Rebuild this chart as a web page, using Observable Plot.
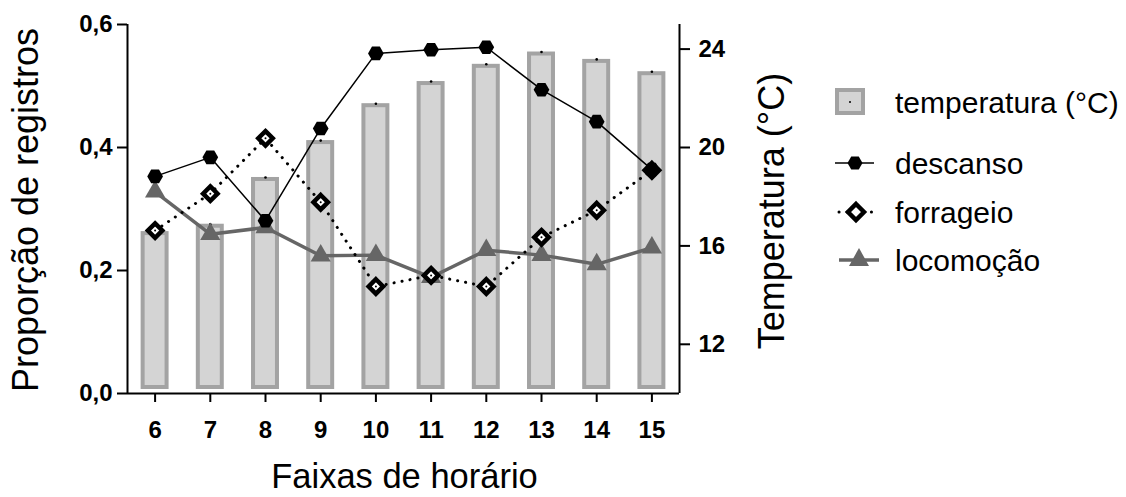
<!DOCTYPE html>
<html><head><meta charset="utf-8">
<script src="https://cdn.jsdelivr.net/npm/d3@7"></script>
<script src="https://cdn.jsdelivr.net/npm/@observablehq/plot@0.6"></script>
<style>
body{margin:0;background:#fff;}
#wrap{position:relative;width:1126px;height:497px;font-family:"Liberation Sans",Arial,sans-serif;}
#legend{position:absolute;left:0;top:0;pointer-events:none;}
#chart svg text{font-family:"Liberation Sans",Arial,sans-serif;}
</style>
</head><body>
<div id="wrap"><div id="chart"></div>
<svg id="legend" width="1126" height="497"></svg></div>
<script>
const hours = [6, 7, 8, 9, 10, 11, 12, 13, 14, 15];
const temperatura = [16.5, 16.8, 18.7, 20.2, 21.7, 22.6, 23.3, 23.8, 23.5, 23.0];
const descanso = [0.353, 0.384, 0.281, 0.431, 0.553, 0.559, 0.563, 0.494, 0.442, 0.364];
const forrageio = [0.265, 0.325, 0.415, 0.311, 0.174, 0.192, 0.174, 0.254, 0.298, 0.363];
const locomocao = [0.328, 0.259, 0.270, 0.224, 0.225, 0.189, 0.233, 0.225, 0.210, 0.237];
const propTicks = [0, 0.2, 0.4, 0.6];
const tempTicks = [12, 16, 20, 24];
const propDomain = [0, 0.6];
const tempDomain = [10, 25];
const xDomain = [5.5, 15.5];
const seriesNames = ["temperatura (°C)", "descanso", "forrageio", "locomoção"];

const toP = t => (t - tempDomain[0]) / (tempDomain[1] - tempDomain[0]) * (propDomain[1] - propDomain[0]) + propDomain[0];
const fromP = p => (p - propDomain[0]) / (propDomain[1] - propDomain[0]) * (tempDomain[1] - tempDomain[0]) + tempDomain[0];

const rows = hours.map((h, i) => ({h, temp: temperatura[i], descanso: descanso[i], forrageio: forrageio[i], locomocao: locomocao[i]}));
const halfBar = 0.217;
const font = "Liberation Sans, Arial, sans-serif";

const chart = Plot.plot({
  width: 1126, height: 497,
  marginLeft: 127, marginRight: 447, marginTop: 24, marginBottom: 104,
  style: {fontFamily: font, background: "white"},
  x: {type: "linear", domain: xDomain, axis: null},
  y: {domain: propDomain, axis: null},
  marks: [
    Plot.rect(rows, {x1: d => d.h - halfBar, x2: d => d.h + halfBar, y1: propDomain[0], y2: d => toP(d.temp),
      fill: "#d4d4d4", stroke: "#a3a3a3", strokeWidth: 4, insetBottom: 6}),
    Plot.dot(rows, {x: "h", y: d => toP(d.temp), r: 1.3, fill: "black", dy: -2}),
    Plot.line(rows, {x: "h", y: "locomocao", stroke: "#666", strokeWidth: 3.5}),
    Plot.dot(rows, {x: "h", y: "locomocao", symbol: "triangle", r: 7.5, fill: "#666"}),
    Plot.line(rows, {x: "h", y: "forrageio", stroke: "black", strokeWidth: 3, strokeDasharray: "0.1 8", strokeLinecap: "round"}),
    Plot.dot(rows, {x: "h", y: "forrageio", symbol: "diamond2", r: 6.5, fill: "white", stroke: "black", strokeWidth: 4.5}),
    Plot.dot(rows, {x: "h", y: "forrageio", r: 1, fill: "black"}),
    Plot.line(rows, {x: "h", y: "descanso", stroke: "black", strokeWidth: 1.5}),
    Plot.dot(rows, {x: "h", y: "descanso", symbol: "hexagon", r: 6.8, rotate: 90, fill: "black"}),
    Plot.ruleY([propDomain[0]], {stroke: "black", strokeWidth: 2}),
    Plot.ruleX(xDomain, {y1: propDomain[0], y2: propDomain[1], stroke: "black", strokeWidth: 2}),
    Plot.axisY(propTicks, {anchor: "left", tickSize: 10, tickPadding: 5, strokeWidth: 2,
      tickFormat: d => d.toFixed(1).replace(".", ","), fontSize: 24, fontWeight: "bold", label: null}),
    Plot.axisY(tempTicks.map(toP), {anchor: "right", tickSize: 10, tickPadding: 9, strokeWidth: 2,
      tickFormat: p => String(Math.round(fromP(p))), fontSize: 24, fontWeight: "bold", label: null}),
    Plot.axisX(hours, {anchor: "bottom", tickSize: 9, tickPadding: 18, strokeWidth: 2,
      tickFormat: d => String(d), fontSize: 24, fontWeight: "bold", label: null}),
    Plot.text(["Proporção de registros"], {frameAnchor: "left", textAnchor: "middle", lineAnchor: "middle", rotate: -90, dx: -101, dy: 1, fontSize: 36, fill: "black"}),
    Plot.text(["Temperatura (°C)"], {frameAnchor: "right", textAnchor: "middle", lineAnchor: "middle", rotate: -90, dx: 93, dy: 2, fontSize: 36, fill: "black"}),
    Plot.text(["Faixas de horário"], {frameAnchor: "bottom", textAnchor: "middle", lineAnchor: "middle", dy: 83, dx: 1, fontSize: 34.5, fill: "black"})
  ]
});
document.getElementById("chart").appendChild(chart);

// Legend
const lg = d3.select("#legend");
const lx = 835, tx = 895;
const items = [
  {y: 102, kind: "bar"},
  {y: 163, kind: "descanso"},
  {y: 212, kind: "forrageio"},
  {y: 260, kind: "locomocao"}
];
items.forEach((it, i) => {
  const g = lg.append("g");
  if (it.kind === "bar") {
    g.append("rect").attr("x", lx + 2).attr("y", it.y - 12).attr("width", 26).attr("height", 23)
      .attr("fill", "#d4d4d4").attr("stroke", "#a3a3a3").attr("stroke-width", 4);
    g.append("circle").attr("cx", lx + 15).attr("cy", it.y).attr("r", 1).attr("fill", "black");
  } else if (it.kind === "descanso") {
    g.append("line").attr("x1", lx).attr("x2", lx + 39).attr("y1", it.y).attr("y2", it.y).attr("stroke", "black").attr("stroke-width", 1.5);
    g.append("path").attr("d", d3.range(6).map(k => { const a = k * Math.PI / 3; return (k ? "L" : "M") + (lx + 20 + 7.5 * Math.cos(a)) + "," + (it.y + 7.5 * Math.sin(a)); }).join("") + "Z").attr("fill", "black");
  } else if (it.kind === "forrageio") {
    g.append("line").attr("x1", lx + 4).attr("x2", lx + 38).attr("y1", it.y).attr("y2", it.y).attr("stroke", "black").attr("stroke-width", 3).attr("stroke-dasharray", "0.1 8").attr("stroke-linecap", "round");
    g.append("path").attr("d", `M${lx+21},${it.y-8}L${lx+29},${it.y}L${lx+21},${it.y+8}L${lx+13},${it.y}Z`).attr("fill", "white").attr("stroke", "black").attr("stroke-width", 4.5);
  } else {
    g.append("line").attr("x1", lx + 4).attr("x2", lx + 44).attr("y1", it.y).attr("y2", it.y).attr("stroke", "#666").attr("stroke-width", 3.5);
    g.append("path").attr("d", `M${lx+24},${it.y-12}L${lx+34},${it.y+6}L${lx+14},${it.y+6}Z`).attr("fill", "#666");
  }
  lg.append("text").attr("x", tx).attr("y", it.y + 11).attr("font-size", 30).attr("fill", "black")
    .attr("font-family", font).text(seriesNames[i]);
});
</script>
</body></html>
